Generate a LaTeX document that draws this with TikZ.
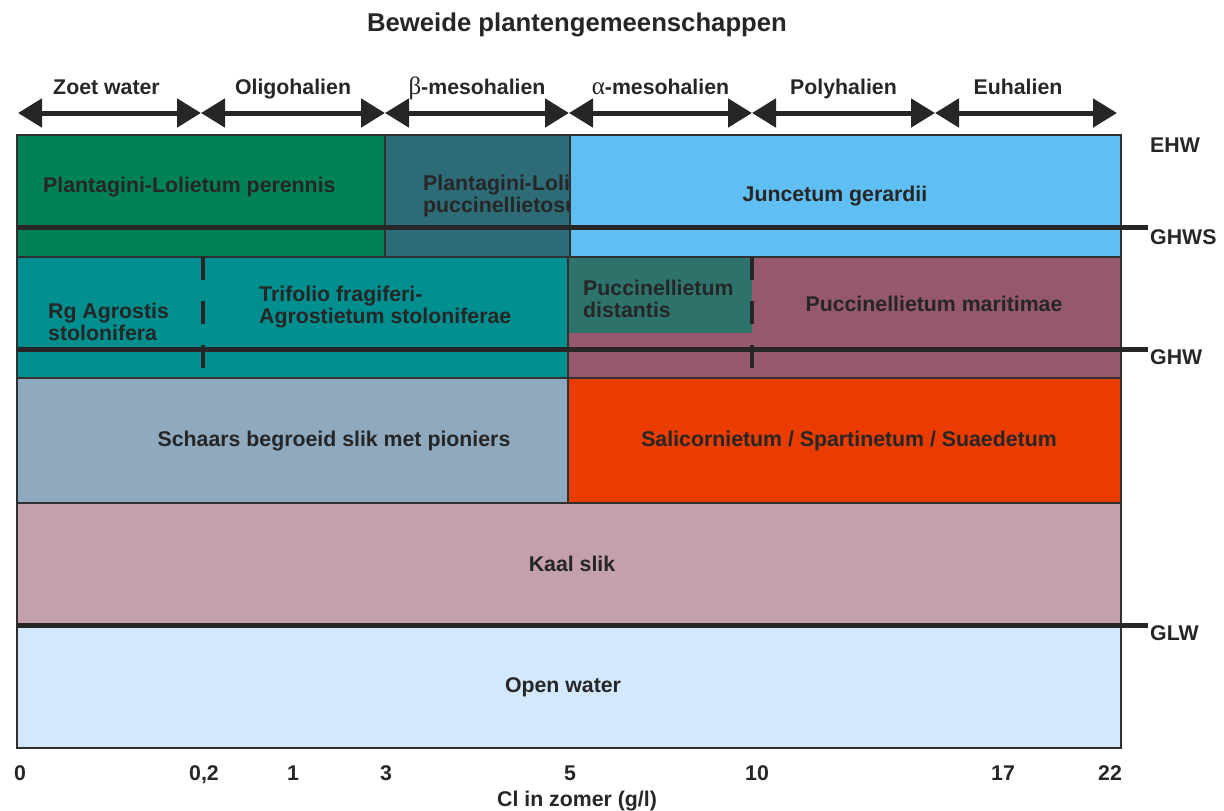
\documentclass[tikz,border=0pt]{standalone}
\usepackage{fontspec}
\setmainfont{Liberation Sans}
\newfontfamily\grieks{Liberation Serif}
\usetikzlibrary{arrows.meta,positioning,calc}

\definecolor{inkt}{HTML}{262626}
\definecolor{rand}{HTML}{303030}
\definecolor{grasgroen}{HTML}{008255}
\definecolor{donkerpetrol}{HTML}{2D6C76}
\definecolor{hemelblauw}{HTML}{5FBEF2}
\definecolor{petrol}{HTML}{008F8F}
\definecolor{zeegroen}{HTML}{2D736C}
\definecolor{bordeaux}{HTML}{96586C}
\definecolor{grijsblauw}{HTML}{8FAABE}
\definecolor{vuurrood}{HTML}{EB3C00}
\definecolor{oudroze}{HTML}{C3A0AA}
\definecolor{waterblauw}{HTML}{D2E8FC}

\tikzset{
  zone/.style={draw=rand, line width=1.2pt},
  lbl/.style={text=inkt, font=\bfseries\fontsize{21.3}{22.5}\selectfont, inner sep=0pt},
  lvl/.style={line width=5pt, draw=inkt},
  dashline/.style={line width=4pt, draw=inkt, dash pattern=on 23pt off 21pt},
  sal/.style={line width=5pt, draw=inkt, {Triangle[length=24pt,width=28pt]}-{Triangle[length=24pt,width=28pt]}}
}

\begin{document}
\begin{tikzpicture}[x=1pt, y=-1pt]
\useasboundingbox (0,0) rectangle (1224,811);

% title
\node[lbl, anchor=base, font=\bfseries\fontsize{25.7}{26}\selectfont] (titel) at (577,31) {Beweide plantengemeenschappen};

% salinity classes
\foreach \n/\x in {0/18, 1/201, 2/385, 3/569, 4/752, 5/935, 6/1117}
  \coordinate (s\n) at (\x,113);
\foreach \a/\b in {0/1, 1/2, 2/3, 3/4, 4/5, 5/6}
  \draw[sal] (s\a) -- (s\b);
\node[lbl, anchor=base] (zoet)  at ($(s0)!0.5!(s1)+(-3,-18.5)$) {Zoet water};
\node[lbl, anchor=base] (oligo) at ($(s1)!0.5!(s2)+(0,-18.5)$) {Oligohalien};
\node[lbl, anchor=base] (beta)  at ($(s2)!0.5!(s3)+(0,-18.5)$) {{\grieks\mdseries\fontsize{25}{25}\selectfont β}-mesohalien};
\node[lbl, anchor=base] (alfa)  at ($(s3)!0.5!(s4)+(0,-18.5)$) {{\grieks\mdseries\fontsize{25}{25}\selectfont α}-mesohalien};
\node[lbl, anchor=base] (poly)  at ($(s4)!0.5!(s5)+(0,-18.5)$) {Polyhalien};
\node[lbl, anchor=base] (euha)  at ($(s5)!0.5!(s6)+(-8,-18.5)$) {Euhalien};

% row 1
\fill[grasgroen, zone] (17,135) rectangle (385,257);
\fill[donkerpetrol, zone] (385,135) rectangle (570,257);
\begin{scope}
  \clip (385,135) rectangle (570,257);
  \node[lbl, anchor=west, align=left] (plpuc) at (423,196) {Plantagini-Lolietum\\puccinellietosum};
\end{scope}
\fill[hemelblauw, zone] (570,135) rectangle (1121,257);

% row 2
\fill[petrol, zone] (17,257) rectangle (568,378);
\fill[bordeaux, zone] (568,257) rectangle (1121,378);
\fill[zeegroen] (568.6,257.6) rectangle (752,333);

% row 3
\fill[grijsblauw, zone] (17,378) rectangle (568,503);
\fill[vuurrood, zone] (568,378) rectangle (1121,503);

% row 4 and 5
\fill[oudroze, zone] (17,503) rectangle (1121,625);
\fill[waterblauw, zone] (17,625) rectangle (1121,748);

% dashed borders
\draw[dashline] (203,257) -- (203,378);
\draw[dashline] (752,257) -- (752,378);

% water levels
\coordinate (ghws) at (1148,227);
\coordinate (ghw) at (1148,349);
\coordinate (glw) at (1148,625);
\draw[lvl] (17,227) -- (ghws);
\draw[lvl] (17,349) -- (ghw);
\draw[lvl] (17,625) -- (glw);
\node[lbl, anchor=base west] (ehwlbl) at (1150,152.5) {EHW};
\node[lbl, anchor=base west] (ghwslbl) at (1150,244.5) {GHWS};
\node[lbl, anchor=base west] (ghwlbl) at (1150,364.5) {GHW};
\node[lbl, anchor=base west] (glwlbl) at (1150,640.5) {GLW};

% communities
\node[lbl, anchor=base west] (plper) at (43,192.5) {Plantagini-Lolietum perennis};
\node[lbl, anchor=base] (junc) at (835,201.5) {Juncetum gerardii};
\node[lbl, anchor=west, align=left] (rgagr) at (48,322) {Rg Agrostis\\stolonifera};
\node[lbl, anchor=west, align=left] (trif) at (259,307) {Trifolio fragiferi-\\Agrostietum stoloniferae};
\node[lbl, anchor=west, align=left] (pdist) at (583,299) {Puccinellietum\\distantis};
\node[lbl, anchor=base] (pmar) at (934,311.5) {Puccinellietum maritimae};
\node[lbl, anchor=base] (schaars) at (334,446.5) {Schaars begroeid slik met pioniers};
\node[lbl, anchor=base] (salic) at (849,446.5) {Salicornietum / Spartinetum / Suaedetum};
\node[lbl, anchor=base] (kaal) at (572,571.5) {Kaal slik};
\node[lbl, anchor=base] (open) at (563,692.5) {Open water};

% chloride axis
\foreach \x/\t in {20/0, 204/{0,2}, 293/1, 386/3, 570/5, 757/10, 1003/17, 1110/22}
  \node[lbl, anchor=base] at (\x,780.5) {\t};
\node[lbl, anchor=base] (as) at (577,806) {Cl in zomer (g/l)};
\end{tikzpicture}
\end{document}
